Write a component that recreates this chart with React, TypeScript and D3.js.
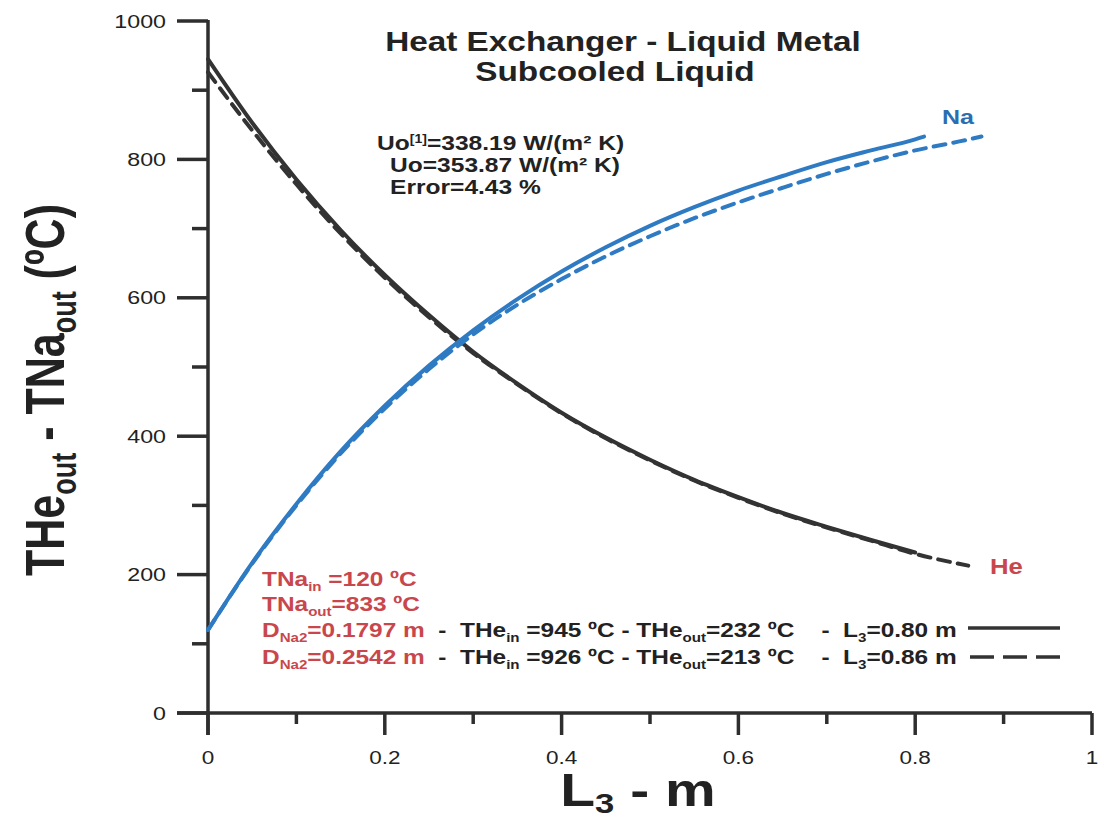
import React from "react";
import * as d3 from "d3";

// ---- data ----
const heSolidX = [0, 0.05, 0.1, 0.15, 0.2, 0.25, 0.3, 0.35, 0.4, 0.45, 0.5, 0.55, 0.6, 0.65, 0.7, 0.75, 0.8];
const heSolidY = [945, 853, 771, 698, 633, 575, 522, 476, 434, 398, 366, 337, 312, 289, 269, 250, 232];
const heDashX = [0, 0.05, 0.1, 0.15, 0.2, 0.25, 0.3, 0.35, 0.4, 0.45, 0.5, 0.55, 0.6, 0.65, 0.7, 0.75, 0.8, 0.86];
const heDashY = [926, 842, 764, 693, 629, 572, 520, 475, 433, 397, 365, 336, 311, 288, 268, 249, 230, 213];
const naSolidX = [0, 0.05, 0.1, 0.15, 0.2, 0.25, 0.3, 0.35, 0.4, 0.45, 0.5, 0.55, 0.6, 0.65, 0.7, 0.75, 0.8, 0.81];
const naSolidY = [120, 217, 302, 378, 444, 502, 553, 598, 638, 673, 704, 731, 755, 776, 796, 813, 829, 833];
const naDashX = [0, 0.05, 0.1, 0.15, 0.2, 0.25, 0.3, 0.35, 0.4, 0.45, 0.5, 0.55, 0.6, 0.65, 0.7, 0.75, 0.8, 0.85, 0.875];
const naDashY = [120, 216, 300, 375, 440, 497, 547, 590, 627, 660, 689, 715, 738, 759, 779, 797, 813, 826, 833];

const yMajor = [0, 200, 400, 600, 800, 1000];
const yMinor = [100, 300, 500, 700, 900];
const xMajor = [0, 0.2, 0.4, 0.6, 0.8, 1];
const xMinor = [0.1, 0.3, 0.5, 0.7, 0.9];
const xTickLabels = ["0", "0.2", "0.4", "0.6", "0.8", "1"];

const FONT = "'Liberation Sans', Arial, Helvetica, sans-serif";
const RED = "#c9474c";
const BLUE = "#2f7bc3";
const NABLUE = "#2c6db2";
const DARK = "#333333";
const AXIS = "#2e2e2e";

const x = d3.scaleLinear().domain([0, 1]).range([208, 1092]);
const y = d3.scaleLinear().domain([0, 1000]).range([713, 21]);

const mkLine = (xs: number[], ys: number[]) =>
  d3
    .line<number>()
    .x((_, i) => x(xs[i]))
    .y((v) => y(v))
    .curve(d3.curveMonotoneX)(ys) || "";

type TProps = {
  x: number;
  y: number;
  sx?: number;
  size: number;
  anchor?: "start" | "middle" | "end";
  weight?: string | number;
  fill?: string;
  children: React.ReactNode;
};

function T({ x: tx, y: ty, sx = 1, size, anchor = "start", weight = "bold", fill = "#222", children }: TProps) {
  return (
    <g transform={`translate(${tx},${ty}) scale(${sx},1)`}>
      <text
        textAnchor={anchor}
        fontSize={size}
        fontWeight={weight}
        fill={fill}
        fontFamily={FONT}
        style={{ whiteSpace: "pre" }}
      >
        {children}
      </text>
    </g>
  );
}

const legendSize = 21;
const subSize = 13;
const subShift = 5;
const LSX = 1.163;

function Sub({ t, fill }: { t: string; fill?: string }) {
  return (
    <tspan dy={subShift} fontSize={subSize} fill={fill}>
      {t}
    </tspan>
  );
}

export default function App() {
  return (
    <svg width={1098} height={819} style={{ position: "absolute", left: 0, top: 0, background: "#fff" }}>
      <rect width={1098} height={819} fill="#fff" />

      {/* axes */}
      <g stroke={AXIS} strokeWidth={3.5} fill="none">
        <line x1={x(0)} x2={x(0)} y1={y(1000) - 1} y2={735} />
        <line x1={177} x2={x(1)} y1={y(0)} y2={y(0)} />
        {yMajor.map((v) => (
          <line key={"ym" + v} x1={177} x2={x(0)} y1={y(v)} y2={y(v)} />
        ))}
        {yMinor.map((v) => (
          <line key={"yn" + v} x1={192} x2={x(0)} y1={y(v)} y2={y(v)} />
        ))}
        {xMajor.map((v) => (
          <line key={"xm" + v} x1={x(v)} x2={x(v)} y1={y(0)} y2={735} />
        ))}
        {xMinor.map((v) => (
          <line key={"xn" + v} x1={x(v)} x2={x(v)} y1={y(0)} y2={724} />
        ))}
      </g>

      {/* tick labels */}
      {yMajor.map((v) => (
        <T key={"yl" + v} x={166} y={y(v) + 6.5} sx={1.29} size={18} anchor="end" weight="normal" fill="#222">
          {String(v)}
        </T>
      ))}
      {xMajor.map((v, i) => (
        <T key={"xl" + v} x={x(v)} y={764} sx={1.25} size={18} anchor="middle" weight="normal" fill="#222">
          {xTickLabels[i]}
        </T>
      ))}

      {/* curves */}
      <g fill="none" strokeWidth={4} strokeLinecap="round">
        <path d={mkLine(heSolidX, heSolidY)} stroke={DARK} />
        <path d={mkLine(heDashX, heDashY)} stroke={DARK} strokeDasharray="12,8" />
        <path d={mkLine(naSolidX, naSolidY)} stroke={BLUE} />
        <path d={mkLine(naDashX, naDashY)} stroke={BLUE} strokeDasharray="12,8" />
      </g>

      {/* titles */}
      <T x={623} y={51} sx={1.19} size={28} anchor="middle" fill="#222">
        Heat Exchanger - Liquid Metal
      </T>
      <T x={615} y={81} sx={1.19} size={28} anchor="middle" fill="#222">
        Subcooled Liquid
      </T>

      {/* annotations */}
      <T x={377} y={150} sx={1.17} size={21} fill="#222">
        Uo
        <tspan dy={-7} fontSize={12}>
          [1]
        </tspan>
        <tspan dy={7}>=338.19 W/(m² K)</tspan>
      </T>
      <T x={390} y={172} sx={1.17} size={21} fill="#222">
        Uo=353.87 W/(m² K)
      </T>
      <T x={390} y={194} sx={1.17} size={21} fill="#222">
        Error=4.43 %
      </T>

      {/* series labels */}
      <T x={942} y={124} sx={1.25} size={20} fill={NABLUE}>
        Na
      </T>
      <T x={990} y={574} sx={1.17} size={22} fill={RED}>
        He
      </T>

      {/* legend */}
      <T x={262} y={586} sx={LSX} size={legendSize} fill={RED}>
        TNa
        <Sub t="in" />
        <tspan dy={-subShift}> =120 ºC</tspan>
      </T>
      <T x={262} y={611} sx={LSX} size={legendSize} fill={RED}>
        TNa
        <Sub t="out" />
        <tspan dy={-subShift}>=833 ºC</tspan>
      </T>
      <T x={262} y={637} sx={LSX} size={legendSize} fill={RED}>
        D
        <Sub t="Na2" />
        <tspan dy={-subShift}>=0.1797 m</tspan>
        <tspan fill="#222">  -  THe</tspan>
        <Sub t="in" fill="#222" />
        <tspan fill="#222" dy={-subShift}> =945 ºC - THe</tspan>
        <Sub t="out" fill="#222" />
        <tspan fill="#222" dy={-subShift}>=232 ºC    -  L</tspan>
        <Sub t="3" fill="#222" />
        <tspan fill="#222" dy={-subShift}>=0.80 m</tspan>
      </T>
      <T x={262} y={664} sx={LSX} size={legendSize} fill={RED}>
        D
        <Sub t="Na2" />
        <tspan dy={-subShift}>=0.2542 m</tspan>
        <tspan fill="#222">  -  THe</tspan>
        <Sub t="in" fill="#222" />
        <tspan fill="#222" dy={-subShift}> =926 ºC - THe</tspan>
        <Sub t="out" fill="#222" />
        <tspan fill="#222" dy={-subShift}>=213 ºC    -  L</tspan>
        <Sub t="3" fill="#222" />
        <tspan fill="#222" dy={-subShift}>=0.86 m</tspan>
      </T>
      <line x1={968} x2={1060} y1={628} y2={628} stroke={DARK} strokeWidth={3.5} />
      <line x1={970} x2={1060} y1={657} y2={657} stroke={DARK} strokeWidth={3.5} strokeDasharray="24,9" />

      {/* axis titles */}
      <T x={638} y={806} sx={1.24} size={46} anchor="middle" fill="#222">
        L
        <tspan dy={7} fontSize={28}>3</tspan>
        <tspan dy={-7}> - m</tspan>
      </T>
      <g transform="translate(64,390) scale(1.3,1) rotate(-90)">
        <text textAnchor="middle" fontSize={43} fontWeight="bold" fill="#222" fontFamily={FONT} style={{ whiteSpace: "pre" }}>
          THe
          <tspan dy={9} fontSize={27}>out</tspan>
          <tspan dy={-9}> - TNa</tspan>
          <tspan dy={9} fontSize={27}>out</tspan>
          <tspan dy={-9}> (ºC)</tspan>
        </text>
      </g>
    </svg>
  );
}
